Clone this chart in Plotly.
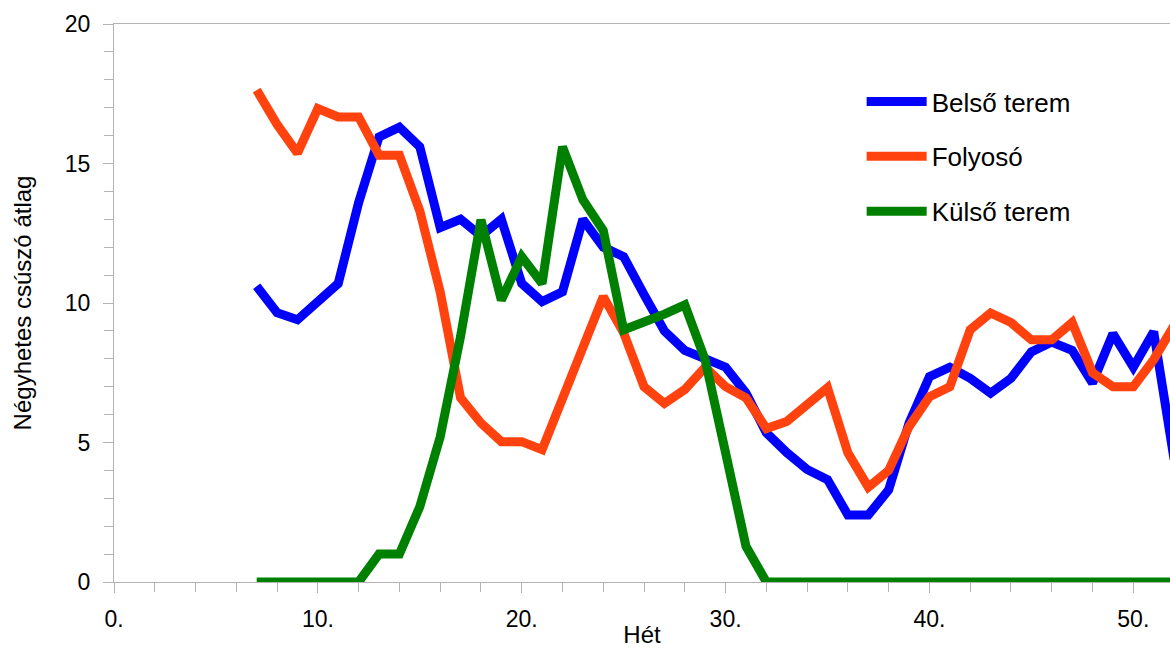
import plotly.graph_objects as go

weeks = list(range(7, 53))

belso = [10.6, 9.65, 9.4, 10.0, 10.7, 13.6, 15.95, 16.3, 15.6, 12.7,
         13.0, 12.4, 13.0, 10.7, 10.05, 10.4, 13.0, 12.0, 11.66, 10.3,
         9.0, 8.3, 7.96, 7.7, 6.78, 5.35, 4.64, 4.03, 3.67, 2.4,
         2.4, 3.3, 5.7, 7.36, 7.7, 7.3, 6.77, 7.3, 8.25, 8.6,
         8.3, 7.13, 8.9, 7.7, 8.97, 4.4]

folyoso = [17.63, 16.4, 15.37, 16.97, 16.67, 16.67, 15.3, 15.3, 13.3, 10.4,
           6.6, 5.7, 5.03, 5.03, 4.74, 6.53, 8.32, 10.23, 8.93, 7.0,
           6.4, 6.9, 7.7, 7.0, 6.6, 5.5, 5.75, 6.35, 6.96, 4.63,
           3.4, 4.0, 5.57, 6.64, 7.0, 9.04, 9.64, 9.3, 8.68, 8.68,
           9.3, 7.5, 7.0, 7.0, 7.97, 9.2]

kulso = [0, 0, 0, 0, 0, 0, 1.0, 1.0, 2.7, 5.2,
         8.8, 12.98, 10.1, 11.66, 10.7, 15.6, 13.7, 12.6, 9.04, 9.3,
         9.6, 9.93, 7.96, 4.63, 1.28, 0, 0, 0, 0, 0,
         0, 0, 0, 0, 0, 0, 0, 0, 0, 0,
         0, 0, 0, 0, 0, 0]

series = [("Belső terem", belso, "#0000ff"),
          ("Folyosó", folyoso, "#ff420e"),
          ("Külső terem", kulso, "#008000")]

x_tickvals = [0, 10, 20, 30, 40, 50]
x_ticktext = ["0.", "10.", "20.", "30.", "40.", "50."]
y_tickvals = [0, 5, 10, 15, 20]

fig = go.Figure()
for i, (name, vals, col) in enumerate(series):
    fig.add_trace(go.Scatter(x=weeks, y=vals, mode="lines", name=name,
                             legendgroup=f"g{i}",
                             line=dict(color=col, width=9)))

axis_col = "#b3b3b3"
fig.update_layout(
    width=1170, height=648,
    margin=dict(l=114, r=0, t=24, b=66),
    paper_bgcolor="white", plot_bgcolor="white",
    font=dict(family="Liberation Sans, Arial, sans-serif", color="black"),
    showlegend=True,
    legend=dict(x=0.708, y=0.903, xanchor="left", yanchor="top",
                font=dict(size=26), tracegroupgap=18, itemwidth=60,
                bgcolor="rgba(0,0,0,0)"),
    xaxis=dict(range=[0, 51.8], tickvals=x_tickvals, ticktext=x_ticktext,
               showgrid=False, zeroline=False, showline=True, linecolor=axis_col,
               linewidth=1, mirror=True, ticks="outside", ticklen=10, tickcolor=axis_col,
               tickfont=dict(size=23), ticklabelstandoff=6,
               minor=dict(dtick=2, tick0=0, ticks="outside", ticklen=9, tickcolor=axis_col, showgrid=False),
               title=dict(text="Hét", font=dict(size=24), standoff=1)),
    yaxis=dict(range=[0, 20], tickvals=y_tickvals,
               showgrid=False, zeroline=False, showline=True, linecolor=axis_col,
               linewidth=1, ticks="outside", ticklen=10, tickcolor=axis_col,
               tickfont=dict(size=23), ticklabelstandoff=8,
               minor=dict(dtick=1, tick0=0, ticks="outside", ticklen=9, tickcolor=axis_col, showgrid=False),
               title=dict(text="Négyhetes csúszó átlag", font=dict(size=24), standoff=26)),
)

fig.write_html("out.html", config={"displayModeBar": False},
               post_script="document.body.style.margin='0';document.body.style.overflow='hidden';")
